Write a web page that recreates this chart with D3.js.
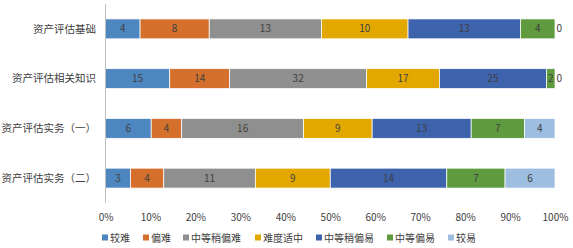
<!DOCTYPE html>
<html><head><meta charset="utf-8">
<script src="https://cdn.jsdelivr.net/npm/d3@7"></script>
<style>body{margin:0;background:#fff}svg{display:block}text{font-family:"Noto Sans CJK SC","Noto Sans",sans-serif}</style>
</head><body><svg id="c" width="573" height="248"></svg>
<script>
const categories = ["资产评估基础","资产评估相关知识","资产评估实务（一）","资产评估实务（二）"];
const seriesNames = ["较难","偏难","中等稍偏难","难度适中","中等稍偏易","中等偏易","较易"];
const colors = ["#4e86c0","#d4702b","#8f8f8f","#e2a800","#3d63ad","#5f9a3f","#9dbde1"];
const s1 = [4,15,6,3];
const s2 = [8,14,4,4];
const s3 = [13,32,16,11];
const s4 = [10,17,9,9];
const s5 = [13,25,13,14];
const s6 = [4,2,7,7];
const s7 = [0,0,4,6];
const tickLabels = ["0%","10%","20%","30%","40%","50%","60%","70%","80%","90%","100%"];

const seriesVals = [s1,s2,s3,s4,s5,s6,s7];
const rows = categories.map((c,i)=>{const o={cat:c};seriesNames.forEach((s,j)=>o[s]=seriesVals[j][i]);return o;});
const stack = d3.stack().keys(seriesNames).offset(d3.stackOffsetExpand);
const layers = stack(rows);

const svg = d3.select("#c");
const x = d3.scaleLinear().domain([0,1]).range([105.5,555]);
const y = d3.scaleBand().domain(categories).range([4,203]).paddingInner(0.6).paddingOuter(0.3);

svg.append("g").selectAll("g").data(layers).join("g")
  .attr("fill",(d,i)=>colors[i])
  .selectAll("rect").data(d=>d).join("rect")
  .attr("x",d=>x(d[0])).attr("y",d=>y(d.data.cat))
  .attr("width",d=>Math.max(0,x(d[1])-x(d[0]))).attr("height",y.bandwidth())
  .attr("stroke","#fff").attr("stroke-width",0.75);

const lab = svg.append("g").attr("font-size",10).attr("fill","#404040");
layers.forEach((L,i)=>{
  L.forEach(d=>{
    const v = d.data[L.key];
    const zero = v===0;
    lab.append("text")
      .attr("x", zero ? x(d[1])+1.5 : (x(d[0])+x(d[1]))/2)
      .attr("y", y(d.data.cat)+y.bandwidth()/2)
      .attr("dy","0.35em")
      .attr("text-anchor", zero ? "start" : "middle")
      .text(v);
  });
});

// vertical axis line
svg.append("line").attr("x1",105.5).attr("x2",105.5).attr("y1",4).attr("y2",203).attr("stroke","#bfbfbf").attr("stroke-width",1);

// category labels
svg.append("g").selectAll("text").data(categories).join("text")
  .attr("x",96).attr("y",d=>y(d)+y.bandwidth()/2).attr("dy","0.35em")
  .attr("text-anchor","end").attr("font-size",10.5).attr("fill","#404040").text(d=>d);

// x tick labels
const xa = d3.axisBottom(x).tickValues(d3.range(0,1.0001,0.1)).tickSize(0).tickFormat((d,i)=>tickLabels[i]);
const gx = svg.append("g").attr("transform","translate(0,211)").call(xa);
gx.select(".domain").remove();
gx.selectAll("text").attr("font-size",10).attr("fill","#404040").attr("font-family",'"Noto Sans CJK SC","Noto Sans",sans-serif');

// legend
const legX = [102,143,183,255,316,387,448];
const leg = svg.append("g");
seriesNames.forEach((s,i)=>{
  leg.append("rect").attr("x",legX[i]).attr("y",234.5).attr("width",6).attr("height",6).attr("fill",colors[i]);
  leg.append("text").attr("x",legX[i]+8).attr("y",238).attr("dy","0.35em").attr("font-size",10).attr("fill","#404040").text(s);
});
</script></body></html>
